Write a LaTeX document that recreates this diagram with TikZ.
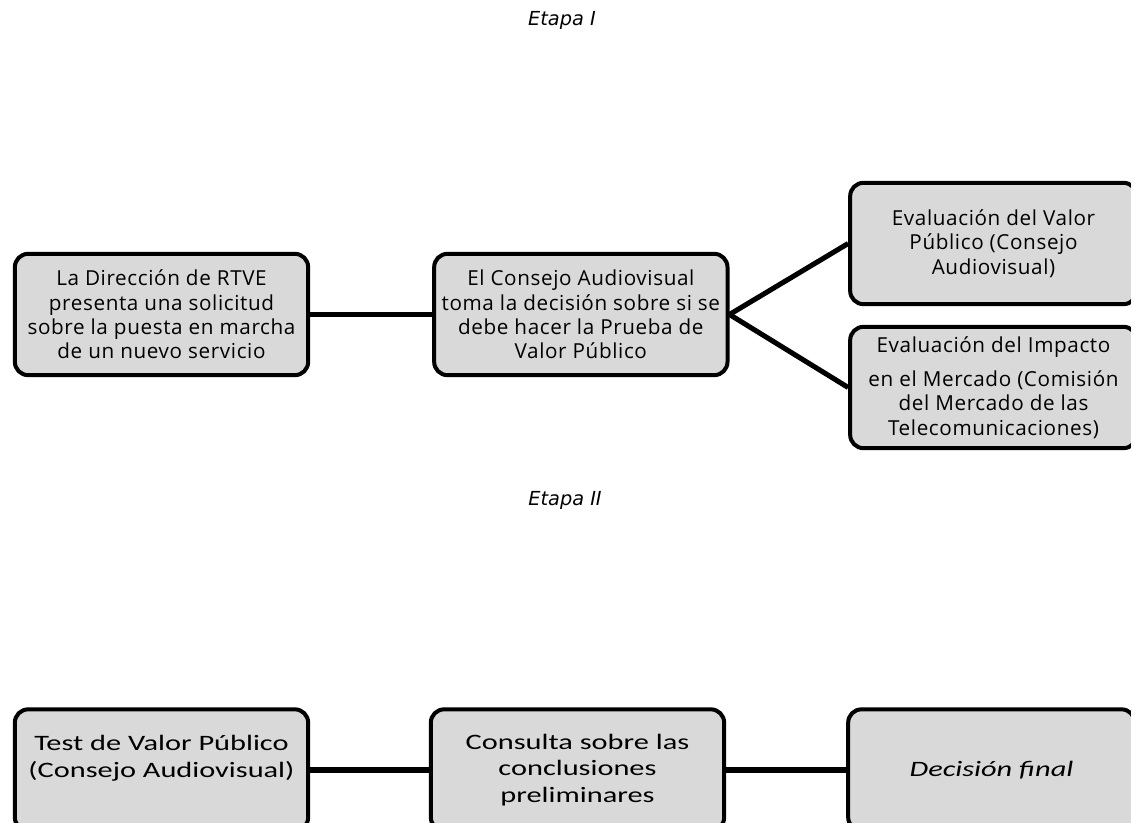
\documentclass[tikz,border=0pt]{standalone}
\usepackage{fontspec}
\newfontfamily\boxfont[LetterSpace=3]{Open Sans}
\newfontfamily\testfont[FakeStretch=1.38]{Carlito}
\newfontfamily\stagefont{DejaVu Sans}
\usetikzlibrary{positioning}

\begin{document}
\begin{tikzpicture}[x=0.75pt, y=-0.75pt,
  box/.style={draw, line width=3pt, rounded corners=10pt, fill=black!15,
    minimum width=220pt, minimum height=91pt, align=center, inner sep=2pt,
    font=\boxfont\fontsize{15.5}{18.3}\selectfont},
  narrow/.style={box, minimum width=215pt},
  wide/.style={box, font=\testfont\fontsize{16.5}{20}\selectfont},
  stage/.style={font=\stagefont\itshape\fontsize{14.5}{17}\selectfont},
  link/.style={line width=3.8pt},
  node distance=91.5pt
]
  \useasboundingbox (0,0) rectangle (1131,823);

  % Etapa I
  \node[stage] (stageone) at (562,20) {Etapa I};
  \node[box] (request) at (161.5,314.5)
    {La Dirección de RTVE\\presenta una solicitud\\sobre la puesta en marcha\\de un nuevo servicio};
  \node[box, right=of request] (council)
    {El Consejo Audiovisual\\toma la decisión sobre si se\\debe hacer la Prueba de\\Valor Público};
  \node[narrow, right=89pt of council, yshift=53.25pt] (value)
    {Evaluación del Valor\\Público (Consejo\\Audiovisual)};
  \node[narrow, right=89pt of council, yshift=-54.75pt] (market)
    {Evaluación del Impacto\\[7pt]en el Mercado (Comisión\\del Mercado de las\\Telecomunicaciones)};

  % Etapa II
  \node[stage] (stagetwo) at (565,500) {Etapa II};
  \node[wide] (test) at (161.5,770)
    {Test de Valor Público\\(Consejo Audiovisual)\\\mbox{}};
  \node[wide, right=89pt of test] (consult)
    {Consulta sobre las\\conclusiones\\preliminares};
  \node[wide, narrow, font=\testfont\itshape\fontsize{16.5}{20}\selectfont,
    right=90pt of consult] (decision) {Decisión final};

  % Connectors
  \draw[link] (request) -- (council);
  \draw[link] (council.east) -- (value.west);
  \draw[link] (council.east) -- (market.west);
  \draw[link] (test) -- (consult);
  \draw[link] (consult) -- (decision);
\end{tikzpicture}
\end{document}
